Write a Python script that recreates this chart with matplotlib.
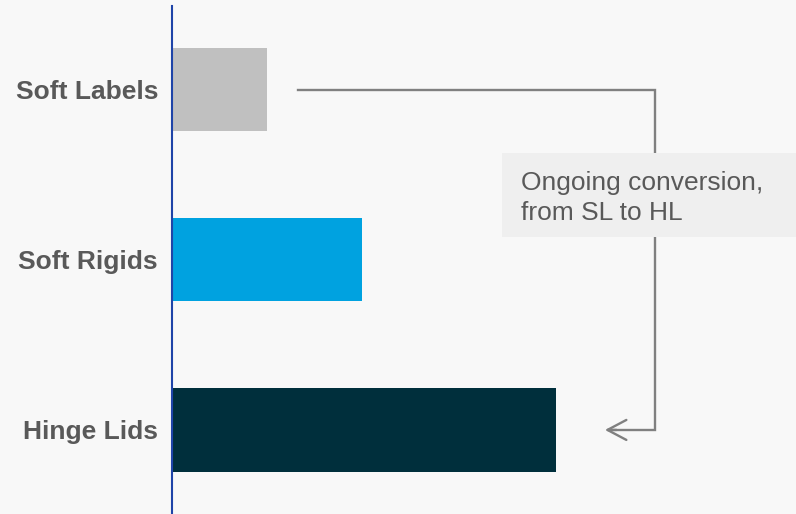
import matplotlib
matplotlib.use("Agg")
import matplotlib.pyplot as plt
from matplotlib.patches import Rectangle

categories = ["Hinge Lids", "Soft Rigids", "Soft Labels"]
values = [99.8, 49.3, 24.5]
colors = ["#002f3c", "#00a2e0", "#c0c0c0"]
note = "Ongoing conversion,\nfrom SL to HL"

plt.rcParams['font.family'] = ['Liberation Sans', 'DejaVu Sans']

W, H = 796, 514
fig = plt.figure(figsize=(W / 100, H / 100), dpi=100)
fig.patch.set_facecolor("#f8f8f8")
ax = fig.add_axes([172 / W, 0, (W - 172) / W, (H - 6) / H])
ax.set_facecolor("#f8f8f8")

ypos = list(range(len(categories)))
ax.barh(ypos, values, height=0.49, color=colors, zorder=2)
ax.set_xlim(-0.26, 162.4)
ax.set_ylim(-0.494, 2.491)

for s in ["top", "right", "bottom"]:
    ax.spines[s].set_visible(False)
ax.spines["left"].set_color("#1f44a8")
ax.spines["left"].set_linewidth(1.5)
ax.spines["left"].set_zorder(3)

ax.set_yticks(ypos)
ax.set_yticklabels(categories, fontsize=19, fontweight="bold", color="#595959")
ax.tick_params(axis="y", length=0, pad=10)
ax.set_xticks([])

# connector from Soft Labels to Hinge Lids
gray = "#808080"
x_start = values[2] + 8.1
x_turn = 125.6
x_end = 112.6
ax.plot([x_start, x_turn, x_turn, x_end + 1], [2, 2, 0, 0], color=gray, lw=1.7,
        solid_joinstyle="miter", zorder=1)
ax.annotate("", xy=(x_end, 0), xytext=(x_end + 3, 0),
            arrowprops=dict(arrowstyle="->,head_length=0.68,head_width=0.36",
                            mutation_scale=20, lw=1.7, color=gray,
                            shrinkA=0, shrinkB=0), zorder=1)

ax.add_patch(Rectangle((85.7, 1.132), 162.4 - 85.7, 1.6265 - 1.132,
                       facecolor="#efefef", edgecolor="none", zorder=4, clip_on=False))
ax.text(90.7, 1.522, note, fontsize=19, color="#595959", va="top", ha="left",
        linespacing=1.32, zorder=5)

fig.savefig("out.png", dpi=100, facecolor=fig.get_facecolor())
